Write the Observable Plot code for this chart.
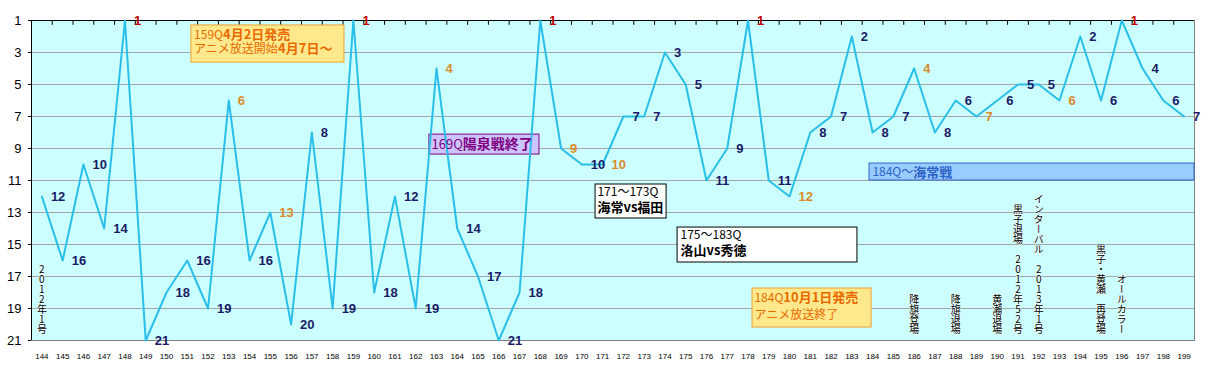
<!DOCTYPE html>
<html>
<head>
<meta charset="utf-8">
<script src="https://cdn.jsdelivr.net/npm/d3@7"></script>
<script src="https://cdn.jsdelivr.net/npm/@observablehq/plot@0.6"></script>
<style>
  body { margin: 0; background: #ffffff; }
  #chart svg { display: block; }
</style>
</head>
<body>
<div id="chart"></div>
<script>
// ---- data ----
const issues = [144,145,146,147,148,149,150,151,152,153,154,155,156,157,158,159,160,161,162,163,164,165,166,167,168,169,170,171,172,173,174,175,176,177,178,179,180,181,182,183,184,185,186,187,188,189,190,191,192,193,194,195,196,197,198,199];
const ranks  = [12,16,10,14,1,21,18,16,19,6,16,13,20,8,19,1,18,12,19,4,14,17,21,18,1,9,10,10,7,7,3,5,11,9,1,11,12,8,7,2,8,7,4,8,6,7,6,5,5,6,2,6,1,4,6,7];
const orangeIssues = [153,155,163,169,171,180,186,189,193];
const yTicks = [1,3,5,7,9,11,13,15,17,19,21];
const gridRanks = [3,5,7,9,11,13,15,17,19];
const boundaries = issues.slice(0, -1).map(d => d + 0.5);

const notes = [
  {issue: 144, text: "2012年1号"},
  {issue: 186, text: "降旗登場"},
  {issue: 188, text: "降旗退場"},
  {issue: 190, text: "黄瀬退場"},
  {issue: 191, text: "黒子退場　2012年52号"},
  {issue: 192, text: "インターバル　2013年1号"},
  {issue: 195, text: "黒子・黄瀬　再登場"},
  {issue: 196, text: "オールカラー"}
];

// annotation boxes (data coordinates)
const boxes = [
  {x1: 151.2,  x2: 158.57, y1: 1.31,  y2: 3.63,  kind: "release"},
  {x1: 162.66, x2: 167.96, y1: 8.13,  y2: 9.38,  kind: "event"},
  {x1: 170.66, x2: 174.08, y1: 11.25, y2: 13.375, kind: "match"},
  {x1: 174.61, x2: 183.27, y1: 13.94, y2: 16.125, kind: "match"},
  {x1: 178.22, x2: 183.95, y1: 17.75, y2: 20.19, kind: "release"},
  {x1: 183.85, x2: 199.5,  y1: 9.94,  y2: 11.0,  kind: "arc"}
];
const boxLines = [
  {x: 151.33, y: 1.9,   kind: "release", size: 12, parts: [["159Q", false], ["4月2日発売", true]]},
  {x: 151.33, y: 2.8,   kind: "release", size: 12, parts: [["アニメ放送開始", false], ["4月7日〜", true]]},
  {x: 162.76, y: 8.75,  kind: "event",   size: 13, parts: [["169Q", false], ["陽泉戦終了", true]]},
  {x: 170.75, y: 11.72, kind: "match",   size: 12, parts: [["171〜173Q", false]]},
  {x: 170.75, y: 12.72, kind: "match",   size: 12, parts: [["海常vs福田", true]]},
  {x: 174.75, y: 14.42, kind: "match",   size: 12, parts: [["175〜183Q", false]]},
  {x: 174.75, y: 15.42, kind: "match",   size: 12, parts: [["洛山vs秀徳", true]]},
  {x: 178.31, y: 18.33, kind: "release", size: 12, parts: [["184Q", false], ["10月1日発売", true]]},
  {x: 178.31, y: 19.4,  kind: "release", size: 12, parts: [["アニメ放送終了", false]]},
  {x: 183.99, y: 10.5,  kind: "arc",     size: 12, parts: [["184Q〜", false], ["海常戦", true]]}
];

// ---- styles ----
const boxStyle = {
  release: {fill: "#ffe98c", stroke: "#f0a030", text: "#e86a00"},
  event:   {fill: "#ccc4ff", stroke: "#800080", text: "#800080"},
  match:   {fill: "#ffffff", stroke: "#000000", text: "#000000"},
  arc:     {fill: "#99ccff", stroke: "#3366cc", text: "#2a62c8"}
};
const CJK = "'Noto Sans CJK JP', 'Noto Sans', sans-serif";
const LAT = "'Liberation Sans', Arial, sans-serif";

const data = issues.map((issue, i) => ({issue, rank: ranks[i]}));
const labelColor = d => d.rank === 1 ? "#c00000" : (orangeIssues.includes(d.issue) ? "#d98b2b" : "#1a1a66");

// measure text widths for mixed-weight lines
const ctx = document.createElement("canvas").getContext("2d");
function measure(text, bold, size) {
  ctx.font = `${bold ? "bold " : ""}${size}px ${CJK}`;
  return ctx.measureText(text).width;
}
const segMarks = [];
for (const line of boxLines) {
  let off = 0;
  for (const [text, bold] of line.parts) {
    const size = bold ? line.size + 1 : line.size;
    segMarks.push(Plot.text([line], {
      x: "x", y: "y", text: () => text, dx: off,
      textAnchor: "start", fontSize: size, fontWeight: bold ? "bold" : "normal",
      fontFamily: CJK, fill: boxStyle[line.kind].text
    }));
    off += measure(text, bold, size);
  }
}

const boxMarks = Object.keys(boxStyle).map(kind =>
  Plot.rect(boxes.filter(b => b.kind === kind), {
    x1: "x1", x2: "x2", y1: "y1", y2: "y2",
    fill: boxStyle[kind].fill, stroke: boxStyle[kind].stroke, strokeWidth: 1
  })
);

const chart = Plot.plot({
  width: 1208,
  height: 378,
  marginTop: 20,
  marginBottom: 38,
  marginLeft: 31,
  marginRight: 14,
  style: {background: "#ffffff", fontFamily: LAT, color: "#000"},
  x: {domain: [143.5, 199.5], axis: null},
  y: {domain: [1, 21], reverse: true, axis: null},
  marks: [
    Plot.frame({fill: "#ccffff", stroke: "#808080"}),
    Plot.ruleY(gridRanks, {stroke: "#a6a6a6"}),
    Plot.text(notes, {
      x: "issue", y: () => 21, text: "text", textAnchor: "end", dy: -10,
      fontSize: 10, fontFamily: CJK, fill: "#000", stroke: "#f4ffff", strokeWidth: 1,
      ariaDescription: "vertical-notes"
    }),
    Plot.ruleY([1], {stroke: "#000"}),
    Plot.ruleX([143.5], {stroke: "#000"}),
    Plot.ruleX(boundaries, {y1: 1, y2: 1.3, stroke: "#000"}),
    Plot.axisY({ticks: yTicks, tickSize: 3, tickPadding: 7, fontSize: 13, tickFormat: d => String(d), label: null, stroke: "#000"}),
    Plot.axisX({anchor: "bottom", ticks: issues, tickSize: 0, tickPadding: 13, fontSize: 8, tickFormat: d => String(d), label: null}),
    ...boxMarks,
    Plot.line(data, {x: "issue", y: "rank", stroke: "#29bfe8", strokeWidth: 2}),
    Plot.text(data, {
      x: "issue", y: "rank", text: d => String(d.rank), fill: labelColor,
      textAnchor: "start", dx: 9, fontSize: 13, fontWeight: "bold", fontFamily: LAT
    }),
    ...segMarks
  ]
});

// vertical writing for the notes
d3.select(chart).selectAll("g[aria-description='vertical-notes'] text")
  .style("writing-mode", "vertical-rl")
  .style("text-orientation", "upright");

document.getElementById("chart").appendChild(chart);
</script>
</body>
</html>
